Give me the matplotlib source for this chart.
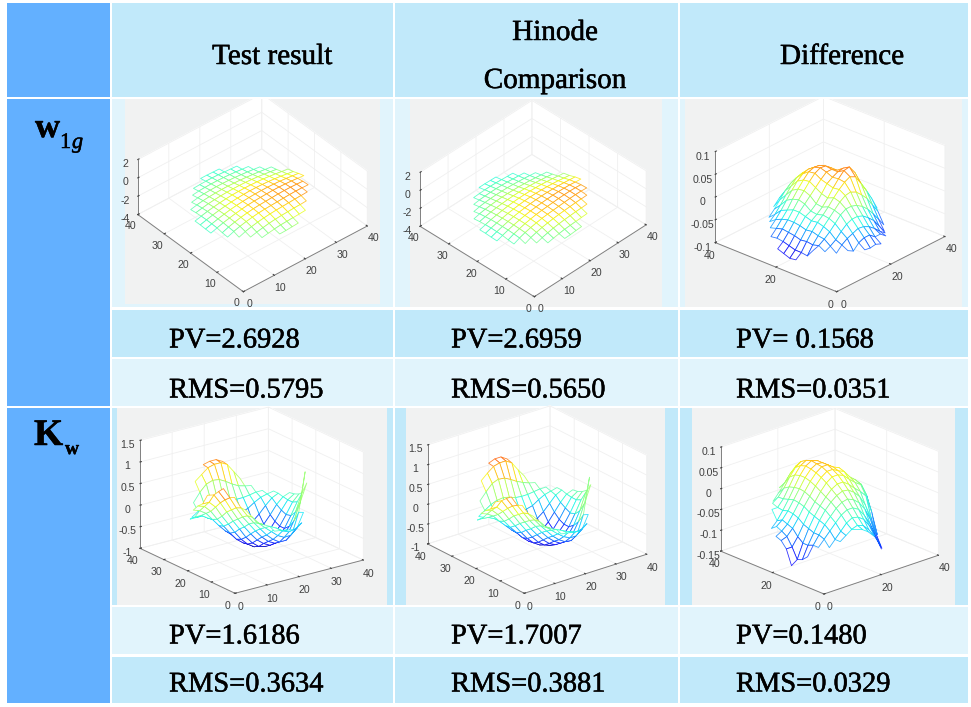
import numpy as np
import matplotlib
matplotlib.use("Agg")
import matplotlib.pyplot as plt
import matplotlib.patheffects as pe
from matplotlib.patches import Rectangle
from matplotlib import colormaps
from mpl_toolkits.mplot3d import proj3d
from mpl_toolkits.mplot3d.art3d import Poly3DCollection

W, H = 971, 707
n = np.nan

# =============================
# TABLE TEXT
# =============================
COL_TITLES = ["Test result", "Hinode\nComparison", "Difference"]
PV_ROW1 = ["PV=2.6928", "PV=2.6959", "PV= 0.1568"]
RMS_ROW1 = ["RMS=0.5795", "RMS=0.5650", "RMS=0.0351"]
PV_ROW2 = ["PV=1.6186", "PV=1.7007", "PV=0.1480"]
RMS_ROW2 = ["RMS=0.3634", "RMS=0.3881", "RMS=0.0329"]

# =============================
# SURFACES (rows are y, columns are x)
# =============================
GRID_X = [4, 6, 8, 10, 12, 14, 16, 18, 20, 22, 24, 26, 28, 30, 32, 34]
GRID_Y = [5, 7, 9, 11, 13, 15, 17, 19, 21, 23, 25, 27, 29, 31, 33, 35]

Z_W_TEST = [
    [n,n,n,n,n,n,-1.62,-1.6,-1.55,-1.5,n,n,n,n,n,n],
    [n,n,n,n,-1.72,-1.6,-1.5,-1.42,-1.38,-1.34,-1.3,-1.25,n,n,n,n],
    [n,n,n,-1.72,-1.55,-1.42,-1.3,-1.22,-1.16,-1.12,-1.08,-1.05,-1.0,n,n,n],
    [n,n,-1.8,-1.55,-1.38,-1.24,-1.14,-1.06,-1.0,-.96,-.92,-.88,-.84,-.8,n,n],
    [n,-1.85,-1.6,-1.4,-1.24,-1.12,-1.02,-.96,-.92,-.88,-.84,-.8,-.78,-.78,-.8,n],
    [n,-1.8,-1.55,-1.36,-1.2,-1.08,-.98,-.92,-.88,-.84,-.8,-.78,-.78,-.8,-.84,n],
    [-1.9,-1.7,-1.5,-1.34,-1.2,-1.08,-.98,-.92,-.88,-.85,-.82,-.82,-.84,-.88,-.94,-1.0],
    [-1.88,-1.68,-1.5,-1.34,-1.2,-1.1,-1.02,-.96,-.92,-.9,-.9,-.92,-.96,-1.02,-1.1,-1.18],
    [-1.85,-1.66,-1.5,-1.36,-1.24,-1.15,-1.08,-1.03,-1.0,-1.0,-1.02,-1.06,-1.12,-1.2,-1.3,-1.4],
    [-1.85,-1.68,-1.52,-1.4,-1.3,-1.22,-1.16,-1.13,-1.12,-1.13,-1.16,-1.2,-1.28,-1.36,-1.46,-1.55],
    [n,-1.72,-1.58,-1.46,-1.38,-1.32,-1.28,-1.26,-1.26,-1.28,-1.32,-1.38,-1.46,-1.55,-1.65,n],
    [n,-1.8,-1.65,-1.55,-1.48,-1.43,-1.4,-1.4,-1.42,-1.45,-1.5,-1.56,-1.64,-1.72,-1.8,n],
    [n,n,-1.78,-1.66,-1.58,-1.54,-1.52,-1.52,-1.54,-1.58,-1.64,-1.7,-1.78,-1.86,n,n],
    [n,n,n,-1.78,-1.7,-1.66,-1.64,-1.64,-1.66,-1.7,-1.76,-1.82,-1.88,n,n,n],
    [n,n,n,n,-1.82,-1.78,-1.76,-1.76,-1.78,-1.82,-1.86,-1.9,n,n,n,n],
    [n,n,n,n,n,n,-1.88,-1.88,-1.9,-1.92,n,n,n,n,n,n],
]
Z_W_HINODE = [
    [n,n,n,n,n,n,-1.7,-1.68,-1.62,-1.58,n,n,n,n,n,n],
    [n,n,n,n,-1.78,-1.66,-1.56,-1.48,-1.44,-1.4,-1.36,-1.32,n,n,n,n],
    [n,n,n,-1.78,-1.6,-1.46,-1.34,-1.26,-1.2,-1.16,-1.12,-1.1,-1.06,n,n,n],
    [n,n,-1.84,-1.58,-1.4,-1.26,-1.16,-1.08,-1.02,-.98,-.94,-.9,-.88,-.86,n,n],
    [n,-1.88,-1.62,-1.42,-1.26,-1.14,-1.04,-.98,-.94,-.9,-.86,-.82,-.8,-.8,-.84,n],
    [n,-1.82,-1.56,-1.38,-1.22,-1.1,-1.0,-.94,-.9,-.86,-.82,-.8,-.8,-.82,-.88,n],
    [-1.92,-1.72,-1.52,-1.36,-1.22,-1.1,-1.0,-.94,-.9,-.87,-.84,-.84,-.86,-.9,-.98,-1.04],
    [-1.9,-1.7,-1.52,-1.36,-1.22,-1.12,-1.04,-.98,-.94,-.92,-.92,-.94,-.98,-1.04,-1.12,-1.2],
    [-1.86,-1.68,-1.52,-1.38,-1.26,-1.17,-1.1,-1.05,-1.02,-1.02,-1.04,-1.08,-1.14,-1.22,-1.32,-1.42],
    [-1.86,-1.7,-1.54,-1.42,-1.32,-1.24,-1.18,-1.15,-1.14,-1.15,-1.18,-1.22,-1.3,-1.38,-1.48,-1.56],
    [n,-1.74,-1.6,-1.48,-1.4,-1.34,-1.3,-1.28,-1.28,-1.3,-1.34,-1.4,-1.48,-1.57,-1.66,n],
    [n,-1.82,-1.67,-1.57,-1.5,-1.45,-1.42,-1.42,-1.44,-1.47,-1.52,-1.58,-1.66,-1.74,-1.82,n],
    [n,n,-1.8,-1.68,-1.6,-1.56,-1.54,-1.54,-1.56,-1.6,-1.66,-1.72,-1.8,-1.88,n,n],
    [n,n,n,-1.8,-1.72,-1.68,-1.66,-1.66,-1.68,-1.72,-1.78,-1.84,-1.9,n,n,n],
    [n,n,n,n,-1.84,-1.8,-1.78,-1.78,-1.8,-1.84,-1.88,-1.92,n,n,n,n],
    [n,n,n,n,n,n,-1.9,-1.9,-1.92,-1.94,n,n,n,n,n,n],
]
Z_W_DIFF = [
    [n,n,n,n,n,n,-.07,-.072,-.07,-.075,n,n,n,n,n,n],
    [n,n,n,n,-.065,-.072,-.06,-.055,-.055,-.065,-.065,-.075,n,n,n,n],
    [n,n,n,-.07,-.058,-.05,-.045,-.04,-.042,-.048,-.058,-.07,-.08,n,n,n],
    [n,n,-.066,-.06,-.052,-.04,-.03,-.025,-.025,-.03,-.04,-.052,-.07,-.088,n,n],
    [n,-.062,-.058,-.05,-.04,-.028,-.015,-.008,-.008,-.012,-.02,-.032,-.048,-.066,-.085,n],
    [n,-.08,-.062,-.048,-.034,-.022,-.01,.002,.01,.012,.006,-.006,-.02,-.04,-.06,n],
    [-.088,-.078,-.06,-.044,-.03,-.02,-.008,.006,.018,.028,.034,.028,.008,-.014,-.038,-.065],
    [-.09,-.078,-.062,-.046,-.032,-.024,-.014,.0,.016,.03,.042,.044,.026,-.002,-.028,-.058],
    [-.085,-.074,-.058,-.042,-.028,-.022,-.012,.004,.02,.028,.034,.036,.024,.004,-.022,-.05],
    [-.08,-.07,-.056,-.04,-.024,-.012,.0,.012,.024,.034,.034,.026,.016,.0,-.022,-.048],
    [n,-.068,-.054,-.04,-.024,-.008,.006,.02,.032,.038,.036,.026,.012,-.006,-.03,n],
    [n,-.07,-.058,-.044,-.03,-.012,.004,.018,.03,.034,.032,.024,.01,-.01,-.034,n],
    [n,n,-.062,-.05,-.036,-.02,-.004,.01,.02,.024,.022,.014,.002,-.018,n,n],
    [n,n,n,-.06,-.05,-.036,-.02,-.006,.006,.01,.01,.004,-.006,n,n,n],
    [n,n,n,n,-.062,-.05,-.036,-.022,-.012,-.006,-.006,-.012,n,n,n,n],
    [n,n,n,n,n,n,-.056,-.044,-.036,-.03,n,n,n,n,n,n],
]
Z_K_TEST = [
    [n,n,n,n,n,n,.0,-.02,-.05,-.08,n,n,n,n,n,n],
    [n,n,n,n,.22,.14,.06,-.02,-.12,-.18,-.15,-.05,n,n,n,n],
    [n,n,n,.5,.3,.12,-.02,-.15,-.28,-.36,-.35,-.22,.1,n,n,n],
    [n,n,.78,.5,.28,.08,-.1,-.28,-.42,-.52,-.52,-.4,.05,.95,n,n],
    [n,.97,.72,.45,.2,.0,-.2,-.38,-.52,-.6,-.58,-.48,-.2,.2,.6,n],
    [n,.85,.62,.35,.1,-.12,-.32,-.5,-.62,-.7,-.68,-.58,-.38,-.08,.32,n],
    [.75,.72,.5,.25,.0,-.22,-.45,-.62,-.74,-.78,-.75,-.65,-.48,-.22,.06,.25],
    [.5,.5,.35,.1,-.12,-.35,-.55,-.7,-.8,-.82,-.78,-.65,-.48,-.25,.0,.15],
    [.4,.35,.2,-.02,-.22,-.42,-.6,-.72,-.8,-.82,-.76,-.62,-.42,-.2,.0,.1],
    [.25,.2,.1,-.08,-.26,-.42,-.55,-.66,-.72,-.72,-.64,-.5,-.32,-.12,.02,.08],
    [n,.0,.0,-.1,-.18,-.28,-.38,-.48,-.52,-.52,-.45,-.32,-.16,-.02,.05,n],
    [n,-.1,-.1,-.1,-.08,-.12,-.18,-.22,-.26,-.25,-.2,-.1,-.02,.02,.05,n],
    [n,n,-.15,-.05,.05,.1,.1,.06,.02,.0,.0,.02,.05,.05,n,n],
    [n,n,n,.1,.3,.45,.5,.48,.4,.3,.22,.18,.15,n,n,n],
    [n,n,n,n,.5,.62,.74,.78,.78,.7,.5,.3,n,n,n,n],
    [n,n,n,n,n,n,.76,.8,.8,.72,n,n,n,n,n,n],
]
Z_K_HINODE = [
    [n,n,n,n,n,n,-.05,-.08,-.1,-.12,n,n,n,n,n,n],
    [n,n,n,n,.16,.08,.0,-.08,-.16,-.22,-.2,-.1,n,n,n,n],
    [n,n,n,.42,.24,.06,-.08,-.22,-.34,-.42,-.42,-.3,.02,n,n,n],
    [n,n,.68,.42,.22,.02,-.16,-.34,-.48,-.58,-.6,-.48,-.05,.85,n,n],
    [n,.88,.62,.38,.14,-.06,-.26,-.44,-.58,-.68,-.68,-.56,-.28,.14,.55,n],
    [n,.78,.54,.28,.04,-.18,-.38,-.56,-.7,-.78,-.76,-.66,-.44,-.12,.3,n],
    [.68,.66,.42,.18,-.06,-.28,-.5,-.68,-.8,-.86,-.84,-.72,-.54,-.26,.04,.24],
    [.44,.44,.28,.04,-.18,-.4,-.6,-.76,-.86,-.9,-.86,-.72,-.54,-.3,-.02,.14],
    [.34,.3,.14,-.08,-.28,-.46,-.64,-.78,-.86,-.88,-.82,-.68,-.48,-.24,-.02,.08],
    [.2,.14,.04,-.14,-.3,-.46,-.6,-.7,-.76,-.76,-.7,-.56,-.36,-.16,.0,.06],
    [n,-.04,-.06,-.14,-.22,-.32,-.42,-.5,-.54,-.54,-.48,-.36,-.2,-.04,.04,n],
    [n,-.14,-.12,-.12,-.1,-.14,-.2,-.24,-.26,-.26,-.22,-.12,-.04,.0,.04,n],
    [n,n,-.16,-.06,.04,.1,.12,.08,.02,.0,.0,.02,.04,.04,n,n],
    [n,n,n,.12,.3,.46,.52,.5,.42,.32,.24,.18,.14,n,n,n],
    [n,n,n,n,.52,.66,.78,.82,.82,.72,.5,.3,n,n,n,n],
    [n,n,n,n,n,n,.8,.86,.86,.76,n,n,n,n,n,n],
]
Z_K_DIFF = [
    [n,n,n,n,n,n,-.045,-.05,-.06,-.075,n,n,n,n,n,n],
    [n,n,n,n,-.07,-.06,-.05,-.045,-.05,-.065,-.085,-.11,n,n,n,n],
    [n,n,n,-.085,-.07,-.055,-.04,-.032,-.035,-.045,-.065,-.095,-.125,n,n,n],
    [n,n,-.085,-.07,-.055,-.04,-.026,-.018,-.018,-.026,-.045,-.07,-.105,-.14,n,n],
    [n,-.108,-.085,-.065,-.045,-.03,-.015,-.005,-.002,-.008,-.02,-.04,-.07,-.11,-.148,n],
    [n,-.12,-.09,-.065,-.04,-.02,-.005,.006,.012,.01,.0,-.015,-.04,-.075,-.13,n],
    [-.135,-.125,-.09,-.06,-.035,-.015,.002,.016,.024,.024,.014,.0,-.012,-.028,-.07,-.13],
    [-.1,-.1,-.08,-.055,-.03,-.01,.01,.026,.036,.036,.03,.016,.004,-.006,-.035,-.09],
    [-.085,-.08,-.065,-.045,-.022,-.002,.018,.034,.044,.044,.036,.03,.012,.0,-.015,-.06],
    [-.08,-.072,-.06,-.04,-.018,.004,.024,.04,.05,.05,.04,.034,.016,.0,-.012,-.04],
    [n,-.066,-.055,-.038,-.016,.006,.028,.044,.052,.05,.04,.028,.014,.0,-.012,n],
    [n,-.076,-.062,-.042,-.02,.004,.028,.046,.054,.05,.038,.024,.012,.0,-.012,n],
    [n,n,-.04,-.04,-.024,.0,.024,.042,.05,.044,.032,.02,.008,-.004,n,n],
    [n,n,n,-.035,-.025,-.008,.014,.032,.042,.038,.026,.014,.002,n,n,n],
    [n,n,n,n,-.04,-.024,-.006,.012,.026,.028,.018,.006,n,n,n,n],
    [n,n,n,n,n,n,-.022,-.014,-.004,.004,n,n,n,n,n,n],
]

TICKS_FINE = [0, 10, 20, 30, 40]
TICKS_WIDE = [0, 20, 40]
ZT_W = [-4, -2, 0, 2]
ZT_K = [-1, -.5, 0, .5, 1, 1.5]
ZT_D1 = [-.1, -.05, 0, .05, .1]
ZT_D2 = [-.15, -.1, -.05, 0, .05, .1]

# =============================
# COLOURS
# =============================
BLUE = "#63b0ff"
DARK = "#c1e9fa"
LIGHT = "#e1f4fc"
GREY = "#f1f2f2"
SERIF = "Liberation Serif"

fig = plt.figure(figsize=(W / 100, H / 100), dpi=100, facecolor="white")
base = fig.add_axes([0, 0, 1, 1], zorder=0)
top = fig.add_axes([0, 0, 1, 1], zorder=5)
for a in (base, top):
    a.set_xlim(0, W)
    a.set_ylim(H, 0)
    a.axis("off")


def cell(x0, x1, y0, y1, color, ax=base):
    ax.add_patch(Rectangle((x0, y0), x1 - x0, y1 - y0, fc=color, ec="none"))


def label(ax, x, y, s, size, **kw):
    t = ax.text(x, y, s, family=SERIF, fontsize=size, **kw)
    t.set_path_effects([pe.withStroke(linewidth=0.35, foreground="black")])


COLS = [(111.5, 393), (395, 677.5), (680, 967.5)]

# first column
cell(7, 109.5, 3.3, 96.7, BLUE)
cell(7, 109.5, 99, 405.7, BLUE)
cell(7, 109.5, 408.3, 702.7, BLUE)

for x0, x1 in COLS:
    cell(x0, x1, 99, 307.3, LIGHT)
    cell(x0, x1, 310, 356.7, DARK)
    cell(x0, x1, 359.3, 405.7, LIGHT)
    cell(x0, x1, 408.3, 605, DARK)
    cell(x0, x1, 607.3, 654, LIGHT)
    cell(x0, x1, 656.7, 702.7, DARK)

# header cells go above the 3D boxes, whose top corners are cut by the cell edge
cell(111, 968, 0, 99, "white", ax=top)
for x0, x1 in COLS:
    cell(x0, x1, 3.3, 96.7, DARK, ax=top)

# grey screenshot backgrounds
cell(125, 380, 99, 304, GREY)
cell(410, 661.7, 99, 306.7, GREY)
cell(685, 961.7, 99, 307, GREY)
cell(117.3, 386.7, 408.3, 605, GREY)
cell(406, 665, 408.3, 605, GREY)
cell(691.7, 955, 408.3, 605, GREY)

# table text
label(top, 272, 57, COL_TITLES[0], 21, ha="center", va="center")
label(top, 555, 33, "Hinode", 21, ha="center", va="center")
label(top, 555, 81, "Comparison", 21, ha="center", va="center")
label(top, 842, 57, COL_TITLES[2], 21, ha="center", va="center")

TEXT_X = [169, 451, 736]
for row, y in [(PV_ROW1, 341), (RMS_ROW1, 391), (PV_ROW2, 637), (RMS_ROW2, 685)]:
    for s, x in zip(row, TEXT_X):
        label(top, x, y, s, 20.5, ha="left", va="center")

label(top, 35, 137, "w", 25, weight="bold", va="baseline")
label(top, 60, 148, "1", 16, va="baseline")
label(top, 72, 148, "g", 16, style="italic", va="baseline")
label(top, 34, 445, "K", 27, weight="bold", va="baseline")
label(top, 65, 454, "w", 14, weight="bold", va="baseline")


def to_pixels(ax, x, y, z):
    px, py, _ = proj3d.proj_transform(x, y, z, ax.get_proj())
    return ax.transData.transform((px, py))


def mesh_panel(zgrid, vmin, vmax, zticks, xyticks, elev, azim, bottom, right, ztop):
    side = 430
    ax = fig.add_axes([0.3, 0.3, side / W, side / H], projection="3d", proj_type="ortho", zorder=1)
    ax.patch.set_alpha(0)
    ax.set_xlim(0, 40)
    ax.set_ylim(0, 40)
    ax.set_zlim(zticks[0], zticks[-1])
    ax.view_init(elev=elev, azim=azim)
    ax.set_xticks(xyticks)
    ax.set_yticks(xyticks)
    ax.set_zticks(zticks)
    ax.set_zticklabels([f"{t:g}" for t in zticks])
    ax.zaxis.set_ticks_position("upper")
    ax.tick_params(labelsize=7.6, colors="#404040", pad=1, length=2, labelfontfamily="Liberation Sans")
    ax.tick_params(axis="z", pad=1)
    for axis in (ax.xaxis, ax.yaxis, ax.zaxis):
        axis.set_pane_color("white")
        axis.pane.set_edgecolor("white")
        axis.line.set_color("#808080")
        axis.line.set_linewidth(0.7)
        axis._axinfo["grid"].update(color="#f0f0f0", linewidth=0.6)
        axis._axinfo["tick"].update(inward_factor=0.0, outward_factor=0.12)

    z = np.array(zgrid, dtype=float)
    cmap = colormaps["jet"]
    quads, edge = [], []
    for i in range(z.shape[0] - 1):
        for j in range(z.shape[1] - 1):
            cz = [z[i, j], z[i, j + 1], z[i + 1, j + 1], z[i + 1, j]]
            if np.isnan(cz).any():
                continue
            quads.append([(GRID_X[j], GRID_Y[i], cz[0]), (GRID_X[j + 1], GRID_Y[i], cz[1]),
                          (GRID_X[j + 1], GRID_Y[i + 1], cz[2]), (GRID_X[j], GRID_Y[i + 1], cz[3])])
            edge.append(cmap((np.mean(cz) - vmin) / (vmax - vmin), alpha=0.8))
    ax.add_collection3d(Poly3DCollection(quads, facecolors="white", edgecolors=edge, linewidths=0.6))

    # fit the box onto the corners measured in the picture
    zlo, zhi = zticks[0], zticks[-1]
    h, zoom = 0.45, 0.8
    target_w = np.hypot(right[0] - bottom[0], right[1] - bottom[1])
    for _ in range(5):
        ax.set_box_aspect((1, 1, h), zoom=zoom)
        ax.apply_aspect()
        p0 = to_pixels(ax, 0, 0, zlo)
        p1 = to_pixels(ax, 40, 0, zlo)
        zoom *= target_w / np.hypot(*(p1 - p0))
        ax.set_box_aspect((1, 1, h), zoom=zoom)
        p2 = to_pixels(ax, 0, 40, zlo)
        p3 = to_pixels(ax, 0, 40, zhi)
        h *= ztop / (p3[1] - p2[1])
    ax.set_box_aspect((1, 1, h), zoom=zoom)
    ax.apply_aspect()
    p0 = to_pixels(ax, 0, 0, zlo)
    pos = ax.get_position()
    dx = bottom[0] - p0[0]
    dy = (H - bottom[1]) - p0[1]
    ax.set_position([pos.x0 + dx / W, pos.y0 + dy / H, pos.width, pos.height])
    return ax


mesh_panel(Z_W_TEST, -3.0, -.1, ZT_W, TICKS_FINE, 38.5, -130.4, (243.3, 291.7), (366.7, 225), 55)
mesh_panel(Z_W_HINODE, -3.0, -.1, ZT_W, TICKS_FINE, 39, -135.6, (534.3, 296.7), (646.7, 225.7), 54)
mesh_panel(Z_W_DIFF, -.1, .075, ZT_D1, TICKS_WIDE, 27, -138.3, (836.7, 291.7), (945, 236.7), 91)
mesh_panel(Z_K_TEST, -.85, 1.25, ZT_K, TICKS_FINE, 20.5, -126.5, (235, 593.3), (363.3, 560), 108)
mesh_panel(Z_K_HINODE, -.95, 1.25, ZT_K, TICKS_FINE, 23.8, -128.3, (524.3, 593.3), (646.7, 554.3), 99)
mesh_panel(Z_K_DIFF, -.15, .13, ZT_D2, TICKS_WIDE, 22, -132.1, (824, 594), (938.3, 555), 104)

fig.savefig("out.png", dpi=100, facecolor="white")
